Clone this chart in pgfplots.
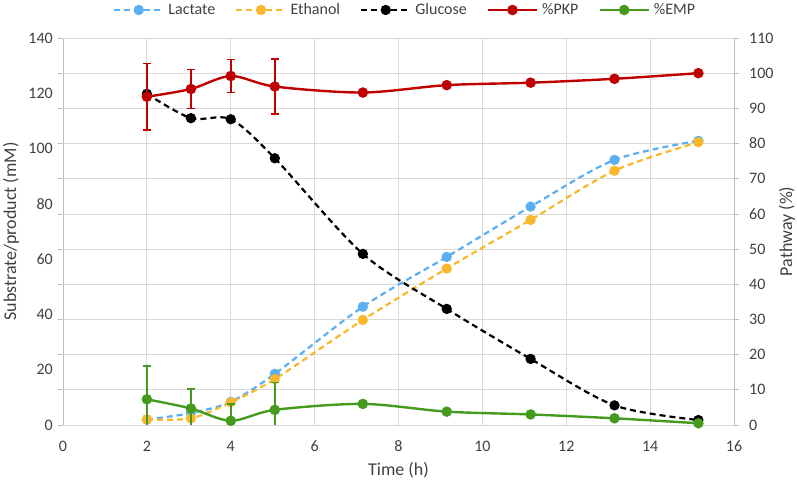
\documentclass[border=0pt]{standalone}
\usepackage{fontspec}
\setmainfont{Carlito}
\usepackage{pgfplots}
\pgfplotsset{compat=1.18}
\definecolor{lac}{HTML}{5AAEF2}
\definecolor{eth}{HTML}{F9B72B}
\definecolor{pkp}{HTML}{C00000}
\definecolor{emp}{HTML}{459B1F}
\definecolor{gridc}{HTML}{D9D9D9}
\definecolor{axc}{HTML}{BFBFBF}
\definecolor{txt}{HTML}{404040}
\pgfplotsset{
  base/.style={scale only axis, width=671pt, height=387pt, xmin=0, xmax=16,
    font=\fontsize{16}{18}\selectfont, /pgf/number format/assume math mode=true,
    ticklabel style={txt}, label style={txt, font=\fontsize{18}{20}\selectfont},
    axis line style={axc, line width=0.8pt}, tick style={axc, line width=0.8pt}},
  dsh/.style={line width=2.2pt, dash pattern=on 6pt off 4pt, smooth, mark=*, mark size=4pt, mark options={solid}},
  sld/.style={line width=2.4pt, smooth, mark=*, mark size=4pt},
}
\begin{document}
\begin{tikzpicture}
\begin{axis}[base, name=ax1,
  ymin=0, ymax=140, ytick={0,20,...,140},
  axis x line*=bottom, axis y line*=left,
  xtick={0,2,...,16}, xmajorgrids, grid style={gridc, line width=0.8pt},
  major tick length=0pt,
  extra y ticks={0,12.7273,25.4545,38.1818,50.9091,63.6364,76.3636,89.0909,101.8182,114.5455,127.2727,140},
  extra y tick labels={},
  extra y tick style={ymajorgrids=true, major tick length=5pt, tick align=outside},
  yticklabel style={anchor=east, inner sep=0pt, xshift=-10pt},
  xticklabel style={anchor=center, inner sep=0pt, yshift=-21pt},
  xlabel={Time (h)}, ylabel={Substrate/product (mM)},
  xlabel style={at={(axis description cs:0.5,0)}, anchor=center, yshift=-45pt},
  ylabel style={at={(axis description cs:0,0.5)}, anchor=center, yshift=52pt},
]
\addplot[dsh, color=lac] coordinates {(2,2.0) (3.05,4.3) (4,8.4) (5.05,18.5) (7.15,42.8) (9.15,60.8) (11.15,79.0) (13.15,95.9) (15.15,102.8)};
\addplot[dsh, color=eth] coordinates {(2,2.0) (3.05,2.4) (4,8.2) (5.05,16.6) (7.15,38.0) (9.15,56.6) (11.15,74.2) (13.15,92.0) (15.15,102.3)};
\addplot[dsh, color=black] coordinates {(2,119.8) (3.05,111.0) (4,110.6) (5.05,96.5) (7.15,61.9) (9.15,42.0) (11.15,23.9) (13.15,7.1) (15.15,1.8)};
\end{axis}
\begin{axis}[base,
  ymin=0, ymax=110, ytick={0,10,...,110},
  axis y line*=right, hide x axis,
  major tick length=5pt, tick align=outside,
  yticklabel style={anchor=west, inner sep=0pt, xshift=10pt},
  ylabel={Pathway (\%)},
  ylabel style={at={(axis description cs:1,0.5)}, anchor=center, yshift=-53pt},
  legend columns=5,
  legend style={at={(axis description cs:0.0745,1)}, anchor=west, yshift=28pt, draw=none, fill=none, inner sep=0pt, font=\fontsize{16}{18}\selectfont\color{txt},
    /tikz/every odd column/.append style={column sep=2pt},
    /tikz/every even column/.append style={column sep=18pt}},
  legend image code/.code={\draw[mark=none] (0pt,0pt) -- (49pt,0pt); \draw[only marks] plot coordinates {(24.5pt,0pt)};},
]
\addlegendimage{dsh, color=lac}
\addlegendentry{Lactate}
\addlegendimage{dsh, color=eth}
\addlegendentry{Ethanol}
\addlegendimage{dsh, color=black}
\addlegendentry{Glucose}
\addlegendimage{sld, color=pkp}
\addlegendentry{\%PKP}
\addlegendimage{sld, color=emp}
\addlegendentry{\%EMP}
\addplot[color=pkp, draw=none, mark=none, forget plot,
  error bars/.cd, y dir=both, y explicit, error mark options={rotate=90, mark size=4pt, line width=1.5pt, pkp}, error bar style={line width=1.5pt, pkp}]
  coordinates {(2,93.3) +- (0,9.5) (3.05,95.5) +- (0,5.6) (4,99.2) +- (0,4.7) (5.05,96.2) +- (0,7.8)};
\addplot[color=emp, draw=none, mark=none, forget plot,
  error bars/.cd, y dir=both, y explicit, error mark options={rotate=90, mark size=4pt, line width=1.5pt, emp}, error bar style={line width=1.5pt, emp}]
  coordinates {(2,7.3) +- (0,9.5) (3.05,4.7) +- (0,5.6) (4,1.2) +- (0,4.7) (5.05,4.3) +- (0,7.8)};
\addplot[sld, color=pkp, forget plot] coordinates {(2,93.3) (3.05,95.5) (4,99.2) (5.05,96.2) (7.15,94.5) (9.15,96.6) (11.15,97.3) (13.15,98.4) (15.15,100)};
\addplot[sld, color=emp, forget plot] coordinates {(2,7.3) (3.05,4.7) (4,1.2) (5.05,4.3) (7.15,6.0) (9.15,3.8) (11.15,3.0) (13.15,1.9) (15.15,0.5)};
\end{axis}
\pgfresetboundingbox
\path ([xshift=-63pt,yshift=-56pt]ax1.south west) rectangle ([xshift=63pt,yshift=38pt]ax1.north east);
\end{tikzpicture}
\end{document}
